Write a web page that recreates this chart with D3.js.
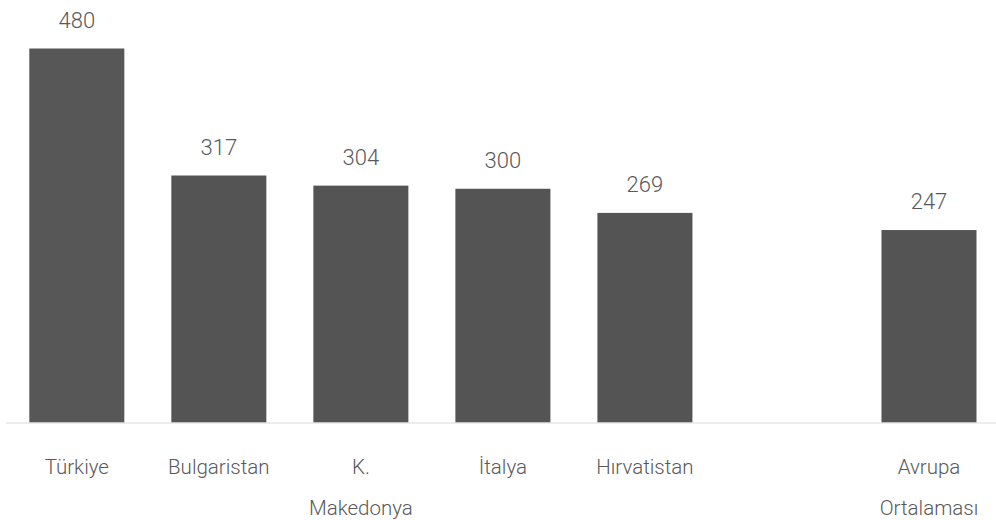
<!DOCTYPE html>
<html>
<head>
<meta charset="utf-8">
<script src="https://cdn.jsdelivr.net/npm/d3@7"></script>
<style>
  html, body { margin: 0; padding: 0; background: #fff; }
  svg { display: block; }
  text { font-family: Roboto, "Noto Sans", sans-serif; fill: #595959; }
</style>
</head>
<body>
<svg id="chart" width="996" height="520"></svg>
<script>
const categories = ["Türkiye", "Bulgaristan", "K. Makedonya", "İtalya", "Hırvatistan", "", "Avrupa Ortalaması"];
const values = [480, 317, 304, 300, 269, null, 247];

const W = 996, H = 520;
const baseY = 422.5;
const svg = d3.select("#chart");

const x = d3.scaleBand()
  .domain(categories)
  .range([5.8, 1000])
  .paddingInner(0.331)
  .paddingOuter(0.1655);

const y = d3.scaleLinear()
  .domain([0, 480])
  .range([baseY, 48.5]);

const data = categories.map((c, i) => ({ c, v: values[i] })).filter(d => d.v != null);

svg.append("g").selectAll("rect")
  .data(data)
  .join("rect")
  .attr("x", d => x(d.c))
  .attr("y", d => y(d.v))
  .attr("width", x.bandwidth())
  .attr("height", d => y(0) - y(d.v))
  .attr("fill", (d, i) => i === 0 ? "#575757" : "#545454");

svg.append("line")
  .attr("x1", x.range()[0]).attr("x2", x.range()[1])
  .attr("y1", baseY + 0.5).attr("y2", baseY + 0.5)
  .attr("stroke", "#d9d9d9").attr("stroke-width", 1.2);

svg.append("g").selectAll("text")
  .data(data)
  .join("text")
  .attr("x", d => x(d.c) + x.bandwidth() / 2)
  .attr("y", d => y(d.v) - 21)
  .attr("text-anchor", "middle")
  .style("font-size", "22px")
  .style("font-weight", 300)
  .text(d => d.v);

const labels = svg.append("g").selectAll("text")
  .data(categories.filter(c => c !== ""))
  .join("text")
  .attr("x", d => x(d) + x.bandwidth() / 2)
  .attr("y", 474)
  .attr("text-anchor", "middle")
  .style("font-size", "20.5px")
  .style("font-weight", 300);

labels.each(function(d) {
  const words = d.split(" ");
  const lines = words.length > 1 ? words : [d];
  d3.select(this).selectAll("tspan")
    .data(lines)
    .join("tspan")
    .attr("x", x(d) + x.bandwidth() / 2)
    .attr("dy", (l, i) => i === 0 ? 0 : 41)
    .text(l => l);
});
</script>
</body>
</html>
